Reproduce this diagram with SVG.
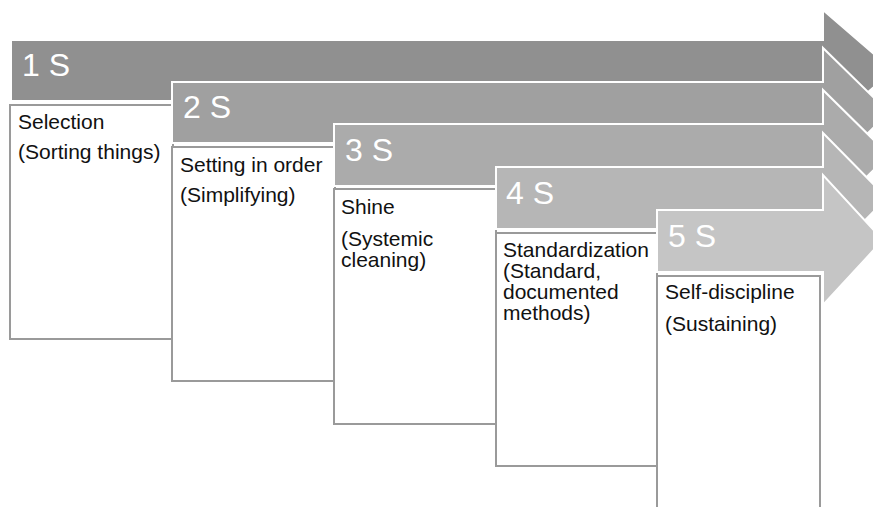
<svg xmlns="http://www.w3.org/2000/svg" width="873" height="507" viewBox="0 0 873 507">
<style>
.arr{stroke:#ffffff;stroke-width:2;stroke-linejoin:miter}
.box{fill:#ffffff;stroke:#9a9a9a;stroke-width:2}
.lbl{font-family:"Liberation Sans",Arial,sans-serif;font-size:32px;fill:#ffffff}
.txt{font-family:"Liberation Sans",Arial,sans-serif;font-size:21px;fill:#111111}
</style>
<rect width="873" height="507" fill="#ffffff"/>
<g id="step1">
<path class="arr" fill="#909090" d="M11,40 H823 V10 L893,70.5 L823,131 V101 H11 Z"/>
<text class="lbl" x="22" y="76">1 S</text>
<rect class="box" x="10" y="105" width="163" height="234"/>
<text class="txt" x="18" y="129">Selection</text>
<text class="txt" x="18" y="159">(Sorting things)</text>
</g>
<g id="step2">
<path class="arr" fill="#a0a0a0" d="M172,82 H823 V48 L889,112.5 L823,177 V143 H172 Z"/>
<text class="lbl" x="183" y="118">2 S</text>
<rect class="box" x="172" y="147" width="163" height="234"/>
<text class="txt" x="180" y="172">Setting in order</text>
<text class="txt" x="180" y="202">(Simplifying)</text>
</g>
<g id="step3">
<path class="arr" fill="#ababab" d="M334,124 H823 V90 L889,155 L823,220 V186 H334 Z"/>
<text class="lbl" x="345" y="161">3 S</text>
<rect class="box" x="334" y="189" width="162" height="235"/>
<text class="txt" x="341" y="214">Shine</text>
<text class="txt" x="341" y="246">(Systemic</text>
<text class="txt" x="341" y="267">cleaning)</text>
</g>
<g id="step4">
<path class="arr" fill="#b6b6b6" d="M496,167 H823 V133 L887,198 L823,263 V229 H496 Z"/>
<text class="lbl" x="506" y="204">4 S</text>
<rect class="box" x="496" y="233" width="161" height="233"/>
<text class="txt" x="503" y="257">Standardization</text>
<text class="txt" x="503" y="278">(Standard,</text>
<text class="txt" x="503" y="299">documented</text>
<text class="txt" x="503" y="320">methods)</text>
</g>
<g id="step5">
<path class="arr" fill="#c5c5c5" d="M657,210 H823 V175 L883,240 L823,305 V272 H657 Z"/>
<text class="lbl" x="668" y="247">5 S</text>
<rect class="box" x="657" y="276" width="163" height="240"/>
<text class="txt" x="665" y="299">Self-discipline</text>
<text class="txt" x="665" y="331">(Sustaining)</text>
</g>
<g id="connectors"/>
</svg>
